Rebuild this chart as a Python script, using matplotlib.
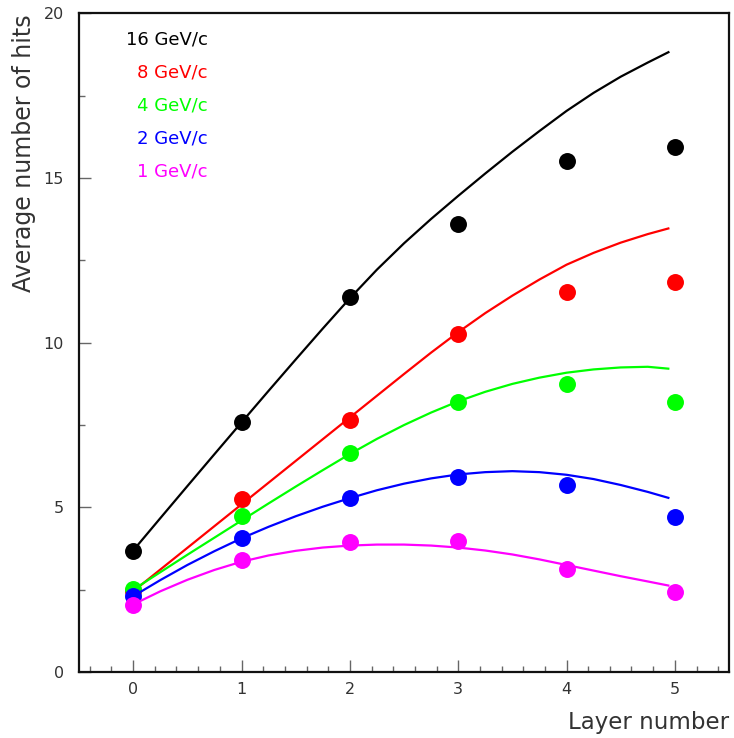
import matplotlib
matplotlib.use("Agg")
import matplotlib.pyplot as plt
from matplotlib.ticker import MultipleLocator

# ---- data ----
layers = [0, 1, 2, 3, 4, 5]
momenta = ["16 GeV/c", "8 GeV/c", "4 GeV/c", "2 GeV/c", "1 GeV/c"]
colors = ["#000000", "#ff0000", "#00ff00", "#0000ff", "#ff00ff"]

hits_16 = [3.69, 7.58, 11.40, 13.62, 15.53, 15.95]
hits_8 = [2.45, 5.24, 7.65, 10.26, 11.55, 11.83]
hits_4 = [2.53, 4.75, 6.64, 8.19, 8.76, 8.19]
hits_2 = [2.32, 4.07, 5.27, 5.92, 5.67, 4.71]
hits_1 = [2.05, 3.39, 3.95, 3.98, 3.12, 2.42]

curve_x = [0, 0.25, 0.5, 0.75, 1.0, 1.25, 1.5, 1.75, 2.0, 2.25, 2.5,
           2.75, 3.0, 3.25, 3.5, 3.75, 4.0, 4.25, 4.5, 4.75, 4.95]
curve_16 = [3.69, 4.67, 5.645, 6.615, 7.58, 8.54, 9.49, 10.43, 11.35, 12.22, 13.02,
            13.76, 14.46, 15.14, 15.80, 16.43, 17.04, 17.59, 18.08, 18.51, 18.84]
curve_8 = [2.45, 3.11, 3.77, 4.43, 5.09, 5.75, 6.41, 7.07, 7.73, 8.39, 9.05,
           9.70, 10.32, 10.90, 11.43, 11.92, 12.37, 12.73, 13.04, 13.30, 13.48]
curve_4 = [2.50, 3.03, 3.56, 4.08, 4.60, 5.12, 5.63, 6.13, 6.62, 7.08, 7.50,
           7.88, 8.22, 8.51, 8.75, 8.94, 9.09, 9.19, 9.25, 9.27, 9.21]
curve_2 = [2.30, 2.79, 3.25, 3.67, 4.06, 4.41, 4.73, 5.02, 5.28, 5.52, 5.72,
           5.88, 6.00, 6.07, 6.10, 6.07, 5.99, 5.86, 5.68, 5.47, 5.28]
curve_1 = [2.05, 2.45, 2.80, 3.10, 3.35, 3.54, 3.68, 3.78, 3.84, 3.87, 3.87,
           3.84, 3.78, 3.69, 3.57, 3.42, 3.25, 3.08, 2.91, 2.75, 2.62]

points = [hits_16, hits_8, hits_4, hits_2, hits_1]
curves = [curve_16, curve_8, curve_4, curve_2, curve_1]

# ---- figure ----
fig = plt.figure(figsize=(7.34, 7.38), dpi=100)
ax = fig.add_axes([79 / 734, 1 - 672 / 738, 650 / 734, 658.5 / 738])

for pts, cur, col in zip(points, curves, colors):
    ax.plot(curve_x, cur, color=col, lw=1.6, solid_capstyle="butt",
            solid_joinstyle="round")
    ax.plot(layers, pts, "o", color=col, ms=12.2, mew=0)

# legend-like labels
legend_y = [19.2, 18.2, 17.2, 16.2, 15.2]
for lab, col, yy in zip(momenta, colors, legend_y):
    ax.text(0.69, yy, lab, color=col, fontsize=13, ha="right", va="center")

ax.set_xlim(-0.5, 5.5)
ax.set_ylim(0, 20)
ax.xaxis.set_major_locator(MultipleLocator(1))
ax.xaxis.set_minor_locator(MultipleLocator(0.2))
ax.yaxis.set_major_locator(MultipleLocator(5))
ax.yaxis.set_minor_locator(MultipleLocator(2.5))

ax.tick_params(which="both", direction="in", color="#666666", width=1,
               labelcolor="#333333", labelsize=11.5)
ax.tick_params(axis="x", which="both", top=False, pad=7)
ax.tick_params(axis="y", which="both", right=False, pad=11)
ax.tick_params(which="major", length=8.6)
ax.tick_params(which="minor", length=4.3)

for s in ax.spines.values():
    s.set_linewidth(1.6)
    s.set_color("#111111")

fig.text(729 / 734, 1 - 722 / 738, "Layer number", fontsize=16.5,
         color="#333333", ha="right", va="center")
fig.text(24 / 734, 1 - 14 / 738, "Average number of hits", fontsize=17,
         color="#333333", ha="center", va="top", rotation=90)

fig.savefig("out.png", dpi=100)
